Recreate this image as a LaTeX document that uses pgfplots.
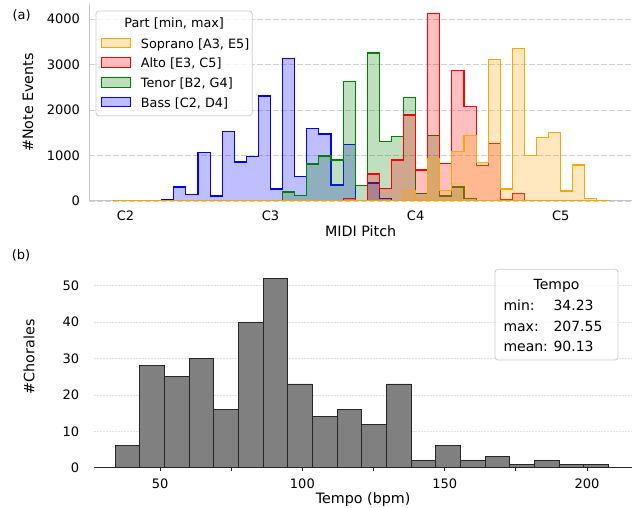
\documentclass[border=0pt]{standalone}
\usepackage{fontspec}
\setmainfont{DejaVu Sans}
\usepackage{pgfplots}
\pgfplotsset{compat=1.18}

\definecolor{sop}{RGB}{255,165,0}
\definecolor{alt}{RGB}{255,0,0}
\definecolor{ten}{RGB}{0,128,0}
\definecolor{bas}{RGB}{0,0,255}

\newcommand{\tickfont}{\fontsize{13bp}{15bp}\selectfont}
\newcommand{\labfont}{\fontsize{14.3bp}{17bp}\selectfont}
\newcommand{\legfont}{\fontsize{12.8bp}{15bp}\selectfont}
\newcommand{\boxfont}{\fontsize{14bp}{17bp}\selectfont}

% pitch histograms, one bin per semitone (left edge = MIDI number)
\pgfplotstableread{
m    bass  tenor alto  soprano
35   0     0     0     0
36   3     0     0     0
37   3     0     0     0
38   5     0     0     0
39   40    0     0     0
40   308   0     0     0
41   139   0     0     0
42   1070  0     0     0
43   110   0     0     0
44   1523  0     0     0
45   857   0     0     0
46   974   0     0     0
47   2308  10    0     0
48   264   10    0     0
49   3128  198   0     0
50   535   117   0     0
51   1590  813   0     0
52   1473  989   2     0
53   352   901   5     0
54   1238  2630  59    0
55   20    344   20    0
56   396   3253  593   0
57   50    1304  278   15
58   20    1421  901   5
59   10    2279  1890  234
60   5     168   681   30
61   5     1443  4125  930
62   2     110   828   227
63   0     308   2864  1092
64   0     59    2073  1443
65   0     15    777   842
66   0     5     1267  3114
67   0     2     37    264
68   0     0     168   3348
69   0     0     15    996
70   0     0     5     1392
71   0     0     2     1502
72   0     0     1     220
73   0     0     0     791
74   0     0     0     51
75   0     0     0     20
76   0     0     0     0
}\pitchtable

\begin{document}
\begin{tikzpicture}
\useasboundingbox (0,0) rectangle (638bp,508bp);

% (a) note events per pitch
\begin{axis}[
  at={(89.2bp,307bp)}, anchor=south west,
  scale only axis, width=542.8bp, height=197bp,
  xmin=33, xmax=77.9, ymin=0, ymax=4330,
  axis x line*=bottom, axis y line*=left,
  axis line style={black!22, line width=1bp},
  xtick={36,48,60,72}, xticklabels={C2,C3,C4,C5},
  ytick={0,1000,2000,3000,4000},
  tick style={draw=none},
  ymajorgrids,
  major grid style={black!18, line width=0.9bp, dash pattern=on 5.5bp off 2.5bp},
  tick label style={font=\tickfont},
  /pgf/number format/assume math mode=true,
  /pgf/number format/1000 sep={},
  xticklabel style={anchor=base, inner sep=0pt, yshift=-19.7bp},
  yticklabel style={anchor=east, inner sep=0pt, xshift=-9bp},
  xlabel={MIDI Pitch}, ylabel={\#Note Events},
  every axis x label/.style={at={(axis description cs:0.5,0)}, anchor=base, yshift=-35.7bp, font=\labfont},
  every axis y label/.style={at={(axis description cs:-0.1127,0.5)}, rotate=90, anchor=center, font=\labfont},
]
\addplot[const plot, draw=bas, line width=1.1bp, fill=bas, fill opacity=0.25] table[x=m, y=bass] {\pitchtable} \closedcycle;
\addplot[const plot, draw=ten, line width=1.1bp, fill=ten, fill opacity=0.25] table[x=m, y=tenor] {\pitchtable} \closedcycle;
\addplot[const plot, draw=alt, line width=1.1bp, fill=alt, fill opacity=0.25] table[x=m, y=alto] {\pitchtable} \closedcycle;
\addplot[const plot, draw=sop, line width=1.1bp, fill=sop, fill opacity=0.25] table[x=m, y=soprano] {\pitchtable} \closedcycle;
\end{axis}

% legend of (a)
\draw[black!20, fill=white, fill opacity=0.8, rounded corners=3bp, line width=0.8bp] (96bp,497bp) rectangle (252.3bp,392.3bp);
\node[anchor=base, inner sep=0pt, font=\legfont] at (174.2bp,480.7bp) {Part [min, max]};
\draw[sop, fill=sop, fill opacity=0.25, line width=1bp] (101bp,460.3bp) rectangle (130bp,469.7bp);
\node[anchor=base west, inner sep=0pt, font=\legfont] at (140.7bp,459.7bp) {Soprano [A3, E5]};
\draw[alt, fill=alt, fill opacity=0.25, line width=1bp] (101bp,440.6bp) rectangle (130bp,450bp);
\node[anchor=base west, inner sep=0pt, font=\legfont] at (140.7bp,440bp) {Alto [E3, C5]};
\draw[ten, fill=ten, fill opacity=0.25, line width=1bp] (101bp,420.9bp) rectangle (130bp,430.3bp);
\node[anchor=base west, inner sep=0pt, font=\legfont] at (140.7bp,420.3bp) {Tenor [B2, G4]};
\draw[bas, fill=bas, fill opacity=0.25, line width=1bp] (101bp,401.2bp) rectangle (130bp,410.6bp);
\node[anchor=base west, inner sep=0pt, font=\legfont] at (140.7bp,400.6bp) {Bass [C2, D4]};

% (b) tempo histogram
\begin{axis}[
  at={(94.3bp,40.3bp)}, anchor=south west,
  scale only axis, width=537.7bp, height=221.7bp,
  xmin=26.9, xmax=215.8, ymin=0, ymax=60.9,
  axis x line*=bottom, axis y line*=left,
  x axis line style={black!85, line width=1bp},
  y axis line style={draw=none},
  xtick={50,100,150,200}, minor xtick={75,125,175},
  ytick={0,10,20,30,40,50},
  tick align=outside,
  ytick style={draw=none},
  xtick style={black!85, line width=0.8bp},
  minor x tick style={black!85, line width=0.8bp},
  major tick length=3.5bp, minor tick length=3.5bp,
  ymajorgrids,
  major grid style={black!13, line width=0.5bp, dash pattern=on 2bp off 1bp},
  tick label style={font=\tickfont},
  /pgf/number format/assume math mode=true,
  xticklabel style={anchor=base, inner sep=0pt, yshift=-17.3bp},
  yticklabel style={anchor=east, inner sep=0pt, xshift=-11.5bp},
  xlabel={Tempo (bpm)}, ylabel={\#Chorales},
  every axis x label/.style={at={(axis description cs:0.5,0)}, anchor=base, yshift=-35.4bp, font=\labfont},
  every axis y label/.style={at={(axis description cs:-0.1214,0.5)}, rotate=90, anchor=center, font=\labfont},
]
\addplot[ybar interval, fill=gray, draw=black!85, line width=0.9bp] coordinates {
  (34.23,6) (42.896,28) (51.562,25) (60.228,30) (68.894,16)
  (77.56,40) (86.226,52) (94.892,23) (103.558,14) (112.224,16)
  (120.89,12) (129.556,23) (138.222,2) (146.888,6) (155.554,2)
  (164.22,3) (172.886,1) (181.552,2) (190.218,1) (198.884,1)
  (207.55,1)
};
\end{axis}

% stats box of (b)
\draw[black!20, fill=white, fill opacity=0.8, rounded corners=3bp, line width=0.8bp] (495bp,238.7bp) rectangle (618bp,148bp);
\node[anchor=base, inner sep=0pt, font=\boxfont] at (556.5bp,218.5bp) {Tempo};
\node[anchor=base west, inner sep=0pt, font=\boxfont] at (503.3bp,197.3bp) {min:};
\node[anchor=base west, inner sep=0pt, font=\boxfont] at (553.3bp,197.3bp) {34.23};
\node[anchor=base west, inner sep=0pt, font=\boxfont] at (503.3bp,176.3bp) {max:};
\node[anchor=base west, inner sep=0pt, font=\boxfont] at (553.3bp,176.3bp) {207.55};
\node[anchor=base west, inner sep=0pt, font=\boxfont] at (503.3bp,156.3bp) {mean:};
\node[anchor=base west, inner sep=0pt, font=\boxfont] at (553.3bp,156.3bp) {90.13};

% panel tags
\node[font=\fontsize{13bp}{15bp}\selectfont] at (21.7bp,493bp) {(a)};
\node[font=\fontsize{13bp}{15bp}\selectfont] at (21bp,253bp) {(b)};
\end{tikzpicture}
\end{document}
